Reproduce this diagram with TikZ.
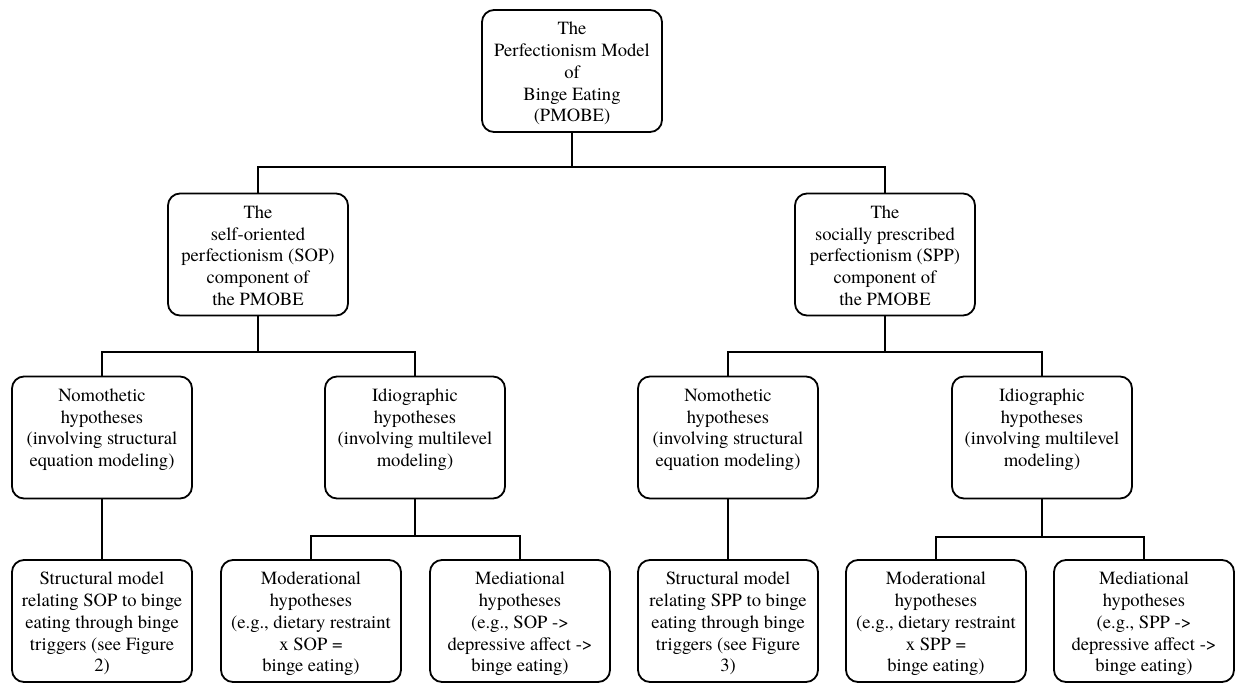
\documentclass[tikz,border=0pt]{standalone}
\usepackage{fontspec}
\setmainfont{texgyretermes}[Extension=.otf, UprightFont=*-regular, BoldFont=*-bold, ItalicFont=*-italic, BoldItalicFont=*-bolditalic]
\usetikzlibrary{positioning}

\begin{document}
\begin{tikzpicture}[
    x=1pt, y=-1pt,
    box/.style={draw=black, line width=1.8pt, rounded corners=12pt, inner xsep=2pt, inner ysep=12pt,
        execute at begin node={\begin{minipage}[t][98pt][t]{176pt}\centering\rmfamily\fontsize{18.6}{21.8}\selectfont},
        execute at end node={\end{minipage}}},
    link/.style={draw=black, line width=2.6pt}
]

\useasboundingbox (0,0) rectangle (1235,683);

% === Model ===
\node[box] (pmobe) at (572,71) {The\\Perfectionism Model\\of\\Binge Eating\\(PMOBE)};

% === Components ===
\node[box] (sop) at (258,254.5) {The\\self-oriented\\perfectionism (SOP)\\component of\\the PMOBE};
\node[box] (spp) at (885,254.5) {The\\socially prescribed\\perfectionism (SPP)\\component of\\the PMOBE};

% === Hypotheses ===
\node[box] (nomsop) at (102,437.5) {Nomothetic\\hypotheses\\(involving structural\\equation modeling)};
\node[box] (idisop) at (415,437.5) {Idiographic\\hypotheses\\(involving multilevel\\modeling)};
\node[box] (nomspp) at (728,437.5) {Nomothetic\\hypotheses\\(involving structural\\equation modeling)};
\node[box] (idispp) at (1042,437.5) {Idiographic\\hypotheses\\(involving multilevel\\modeling)};

% === Models and tests ===
\node[box] (strsop) at (102,621) {Structural model\\relating SOP to binge\\eating through binge\\triggers (see Figure\\2)};
\node[box] (modsop) at (311,621) {Moderational\\hypotheses\\(e.g., dietary restraint\\x SOP =\\binge eating)};
\node[box] (medsop) at (520,621) {Mediational\\hypotheses\\(e.g., SOP ->\\depressive affect ->\\binge eating)};
\node[box] (strspp) at (728,621) {Structural model\\relating SPP to binge\\eating through binge\\triggers (see Figure\\3)};
\node[box] (modspp) at (936,621) {Moderational\\hypotheses\\(e.g., dietary restraint\\x SPP =\\binge eating)};
\node[box] (medspp) at (1144,621) {Mediational\\hypotheses\\(e.g., SPP ->\\depressive affect ->\\binge eating)};

% Junctions
\coordinate (jtop) at (572,167);
\coordinate (jsop) at (258,352);
\coordinate (jspp) at (885,352);
\coordinate (jidisop) at (415,536);
\coordinate (jidispp) at (1042,537);

% === Connectors ===
\draw[link] (pmobe.south) -- (jtop);
\draw[link] (sop.north) |- (jtop) -| (spp.north);

\draw[link] (sop.south) -- (jsop);
\draw[link] (nomsop.north) |- (jsop) -| (idisop.north);
\draw[link] (spp.south) -- (jspp);
\draw[link] (nomspp.north) |- (jspp) -| (idispp.north);

\draw[link] (nomsop.south) -- (strsop.north);
\draw[link] (nomspp.south) -- (strspp.north);

\draw[link] (idisop.south) -- (jidisop);
\draw[link] (modsop.north) |- (jidisop) -| (medsop.north);
\draw[link] (idispp.south) -- (jidispp);
\draw[link] (modspp.north) |- (jidispp) -| (medspp.north);

\end{tikzpicture}
\end{document}
